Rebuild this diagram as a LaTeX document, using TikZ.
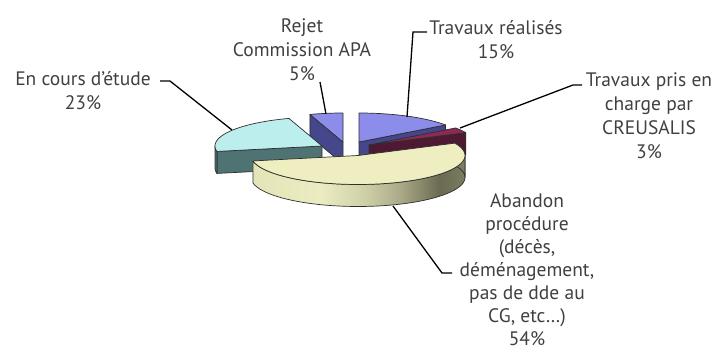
\documentclass[tikz,border=0pt]{standalone}
\usepackage{fontspec}
\setmainfont{PT Sans}
\definecolor{txt}{HTML}{404040}
\definecolor{edge}{HTML}{2E2E2E}
\definecolor{bluetop}{HTML}{8C8CEB}
\definecolor{blueside}{HTML}{46468C}
\definecolor{redtop}{HTML}{8B2A55}
\definecolor{redside}{HTML}{4E1A33}
\definecolor{cyantop}{HTML}{BDEEEE}
\definecolor{cyanside}{HTML}{4F7373}
\definecolor{yeltop}{HTML}{EEEEC0}
\definecolor{ys1}{HTML}{E4E4B8}
\definecolor{ys2}{HTML}{ECECC2}
\definecolor{ys3}{HTML}{D4D4AC}
\definecolor{ys4}{HTML}{A9A987}
\definecolor{ys5}{HTML}{6A6A52}
\definecolor{ys6}{HTML}{7C7C62}
\pgfdeclarehorizontalshading{yside}{100bp}{color(0bp)=(ys1); color(25bp)=(ys1); color(41bp)=(ys2); color(50bp)=(ys3); color(60bp)=(ys4); color(69bp)=(ys5); color(75bp)=(ys6); color(100bp)=(ys6)}
\def\rx{107}
\def\ry{29}
\def\hh{22}
\newcommand\topface[5]{\path[#5] (#1,#2) -- plot[domain=#3:#4,samples=50,variable=\t] ({#1+\rx*sin(\t)},{#2-\ry*cos(\t)}) -- cycle;}
\newcommand\outerside[5]{\path[#5] plot[domain=#3:#4,samples=50,variable=\t] ({#1+\rx*sin(\t)},{#2-\ry*cos(\t)}) -- plot[domain=#4:#3,samples=50,variable=\t] ({#1+\rx*sin(\t)},{#2+\hh-\ry*cos(\t)}) -- cycle;}
\newcommand\radface[4]{\path[#4] (#1,#2) -- ({#1+\rx*sin(#3)},{#2-\ry*cos(#3)}) -- ++(0,\hh) -- (#1,#2+\hh) -- cycle;}
\tikzset{
  face/.style={draw=edge, line width=0.7pt, line join=round},
  leader/.style={draw=black, line width=1.3pt},
  lbl/.style={text=txt, align=center, font=\fontsize{19.5}{24}\selectfont, inner sep=0pt}
}
\begin{document}
\begin{tikzpicture}[x=1pt,y=-1pt]
\useasboundingbox (0,0) rectangle (715,354);
% Travaux realises (blue)
\radface{359}{142}{54}{face, fill=blueside}
\topface{359}{142}{0}{54}{face, fill=bluetop}
% Rejet
\radface{343}{142}{342}{face, fill=blueside}
\topface{343}{142}{342}{360}{face, fill=bluetop}
% Pris en charge (dark red)
\radface{369}{145}{64.8}{face, fill=redside}
\topface{369}{145}{54}{64.8}{face, fill=redtop}
% En cours (cyan)
\radface{322}{146}{259.2}{face, fill=cyanside}
\outerside{322}{146}{259.2}{270}{face, fill=cyanside}
\topface{322}{146}{259.2}{342}{face, fill=cyantop}
% Abandon (yellow)
\outerside{358}{155.5}{90}{259.2}{face, shade, shading=yside}
\outerside{358}{155.5}{64.8}{90}{face, fill=ys6}
\topface{358}{155.5}{64.8}{259.2}{face, fill=yeltop}

% labels
\node[lbl] (rejet) at (302,50) {Rejet\\Commission APA\\5\%};
\node[lbl] (encours) at (83,91) {En cours d'étude\\23\%};
\node[lbl] (realises) at (496,39.5) {Travaux réalisés\\15\%};
\node[lbl] (pris) at (649,116) {Travaux pris en\\charge par\\CREUSALIS\\3\%};
\node[lbl, font=\fontsize{19.5}{23}\selectfont] (abandon) at (527,270) {Abandon\\procédure\\(décès,\\déménagement,\\pas de dde au\\CG, etc…)\\54\%};

% leader lines
\coordinate (rj1) at (320,82); \coordinate (rj2) at (326,114);
\coordinate (ec0) at (160,81); \coordinate (ec1) at (170,81); \coordinate (ec2) at (232,130);
\coordinate (tr0) at (427,32); \coordinate (tr1) at (413,32); \coordinate (tr2) at (407,117);
\coordinate (pc0) at (582,85); \coordinate (pc1) at (573,85); \coordinate (pc2) at (460,128);
\coordinate (ab0) at (452,273); \coordinate (ab1) at (442,273); \coordinate (ab2) at (393,206);
\draw[leader] (rj1) -- (rj2);
\draw[leader] (ec0) -- (ec1) -- (ec2);
\draw[leader] (tr0) -- (tr1) -- (tr2);
\draw[leader] (pc0) -- (pc1) -- (pc2);
\draw[leader] (ab0) -- (ab1) -- (ab2);
\end{tikzpicture}
\end{document}
